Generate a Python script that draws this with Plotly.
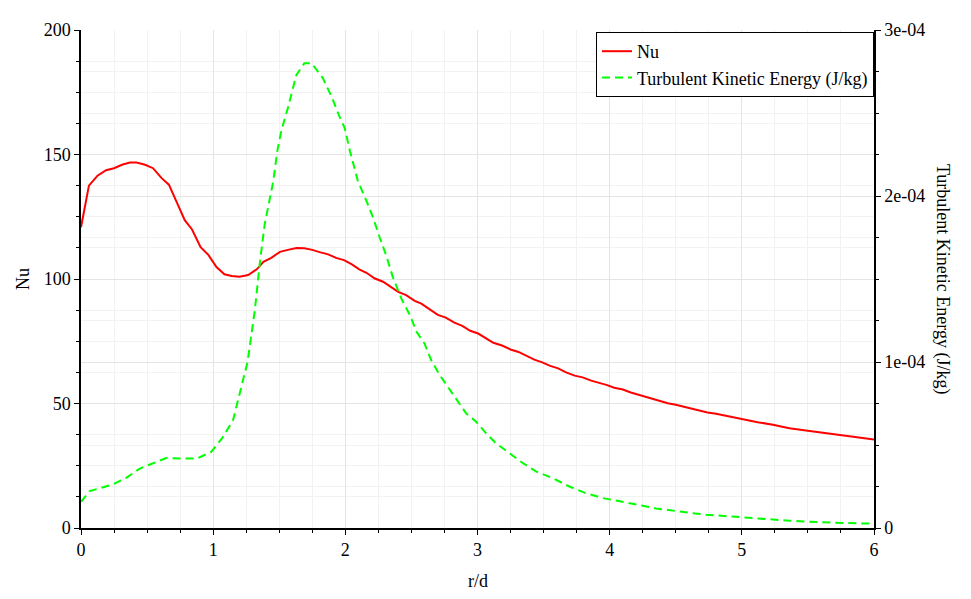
import plotly.graph_objects as go

# ---- data ----
nu_x = [0.0, 0.06, 0.125, 0.19, 0.25, 0.31, 0.37, 0.42, 0.485, 0.545, 0.61, 0.665,
        0.725, 0.785, 0.84, 0.905, 0.965, 1.025, 1.085, 1.14, 1.2, 1.265, 1.33, 1.38,
        1.44, 1.505, 1.565, 1.63, 1.69, 1.75, 1.805, 1.87, 1.93, 1.99, 2.05, 2.105,
        2.16, 2.22, 2.285, 2.335, 2.4, 2.46, 2.525, 2.575, 2.64, 2.7, 2.76, 2.825,
        2.885, 2.945, 3.005, 3.065, 3.12, 3.185, 3.25, 3.31, 3.37, 3.43, 3.49, 3.55,
        3.61, 3.67, 3.735, 3.795, 3.86, 3.91, 3.975, 4.035, 4.1, 4.16, 4.26, 4.33,
        4.44, 4.5, 4.615, 4.74, 4.805, 4.87, 4.93, 5.005, 5.12, 5.235, 5.36, 5.485,
        5.61, 5.735, 5.865, 6.0]
nu_y = [120.8, 137.5, 141.5, 143.7, 144.5, 145.9, 146.8, 146.8, 145.9, 144.5, 140.5, 137.9,
        130.8, 123.6, 119.9, 112.8, 109.6, 104.8, 101.9, 101.2, 100.9, 101.6, 103.9, 106.9,
        108.5, 110.9, 111.7, 112.4, 112.3, 111.7, 110.8, 109.9, 108.5, 107.6, 105.9, 103.9,
        102.5, 100.3, 98.9, 97.2, 94.8, 93.5, 91.2, 90.1, 87.9, 85.6, 84.5, 82.5,
        81.2, 79.2, 78.1, 76.3, 74.4, 73.3, 71.7, 70.7, 69.2, 67.6, 66.5, 65.1,
        64.1, 62.5, 61.2, 60.5, 59.2, 58.5, 57.5, 56.3, 55.6, 54.4, 52.8, 51.9,
        50.1, 49.5, 47.9, 46.4, 45.9, 45.2, 44.5, 43.6, 42.5, 41.5, 40.1, 39.2,
        38.3, 37.2, 36.3, 35.5]

tke_x = [0.0, 0.065, 0.245, 0.345, 0.445, 0.545, 0.645, 0.76, 0.875, 0.985, 1.065, 1.15,
         1.19, 1.225, 1.26, 1.29, 1.315, 1.355, 1.39, 1.43, 1.455, 1.485, 1.515, 1.565,
         1.63, 1.69, 1.745, 1.83, 1.895, 1.955, 1.995, 2.035, 2.095, 2.16, 2.21, 2.26,
         2.31, 2.36, 2.425, 2.49, 2.54, 2.6, 2.65, 2.715, 2.775, 2.84, 2.915, 2.99,
         3.065, 3.14, 3.245, 3.345, 3.445, 3.57, 3.695, 3.82, 3.95, 4.1, 4.225, 4.35,
         4.475, 4.6, 4.73, 4.855, 4.98, 5.105, 5.235, 5.36, 5.485, 5.61, 5.735, 5.865, 6.0]
tke_y = [1.58e-5, 2.22e-5, 2.64e-5, 3.04e-5, 3.58e-5, 3.92e-5, 4.22e-5, 4.18e-5, 4.18e-5,
         4.58e-5, 5.38e-5, 6.48e-5, 7.68e-5, 8.88e-5, 1.0e-4, 1.158e-4, 1.31e-4, 1.61e-4,
         1.83e-4, 1.99e-4, 2.09e-4, 2.27e-4, 2.39e-4, 2.53e-4, 2.73e-4, 2.80e-4, 2.80e-4,
         2.71e-4, 2.60e-4, 2.48e-4, 2.41e-4, 2.27e-4, 2.09e-4, 1.97e-4, 1.87e-4, 1.75e-4,
         1.64e-4, 1.51e-4, 1.38e-4, 1.28e-4, 1.18e-4, 1.11e-4, 1.01e-4, 9.2e-5, 8.5e-5,
         7.7e-5, 6.9e-5, 6.4e-5, 5.7e-5, 5.1e-5, 4.5e-5, 3.9e-5, 3.4e-5, 3.0e-5, 2.5e-5,
         2.1e-5, 1.8e-5, 1.55e-5, 1.38e-5, 1.18e-5, 1.04e-5, 9.2e-6, 8.0e-6, 7.2e-6,
         6.4e-6, 5.6e-6, 5.0e-6, 4.4e-6, 3.8e-6, 3.4e-6, 3.0e-6, 2.8e-6, 2.6e-6]

x_ticks = [0, 1, 2, 3, 4, 5, 6]
nu_ticks = [0, 50, 100, 150, 200]
tke_ticks = [0, 1e-4, 2e-4, 3e-4]
tke_ticktext = ["0", "1e-04", "2e-04", "3e-04"]

FONT = "Liberation Serif"
FS = 18
MAJ = "#e4e4e4"
MIN = "#f2f2f2"

fig = go.Figure()
fig.add_trace(go.Scatter(x=nu_x, y=nu_y, mode="lines", name="Nu",
                         line=dict(color="#ff0000", width=2)))
fig.add_trace(go.Scatter(x=tke_x, y=tke_y, mode="lines",
                         name="Turbulent Kinetic Energy (J/kg)", yaxis="y2",
                         line=dict(color="#00ff00", width=2, dash="8px,5px")))

fig.update_layout(
    width=971, height=599,
    margin=dict(l=73, r=105, t=20, b=79),
    paper_bgcolor="white", plot_bgcolor="white",
    font=dict(family=FONT, size=FS, color="black"),
    showlegend=True,
    legend=dict(x=1, y=0.996, xanchor="right", yanchor="top",
                bgcolor="white", bordercolor="black", borderwidth=1,
                font=dict(family=FONT, size=FS, color="black"),
                itemwidth=30, tracegroupgap=0),
    xaxis=dict(range=[0, 6], tickvals=x_ticks, ticks="outside", ticklen=5,
               tickcolor="black", showline=True, linecolor="black", linewidth=1.5,
               showgrid=True, gridcolor=MAJ, gridwidth=1, zeroline=False,
               minor=dict(dtick=0.25, ticks="outside", ticklen=3, tickcolor="black",
                          showgrid=True, gridcolor=MIN),
               tickfont=dict(family=FONT, size=FS, color="black")),
    yaxis=dict(range=[0, 200], tickvals=nu_ticks, ticks="outside", ticklen=5,
               tickcolor="black", showline=True, linecolor="black", linewidth=1.5,
               showgrid=True, gridcolor=MAJ, zeroline=False,
               minor=dict(dtick=12.5, ticks="outside", ticklen=3, tickcolor="black",
                          showgrid=True, gridcolor=MIN),
               tickfont=dict(family=FONT, size=FS, color="black")),
    yaxis2=dict(range=[0, 3e-4], overlaying="y", side="right",
                tickvals=tke_ticks, ticktext=tke_ticktext, ticks="outside", ticklen=5,
                tickcolor="black", showline=True, linecolor="black", linewidth=1.5,
                showgrid=True, gridcolor=MAJ, zeroline=False,
                minor=dict(dtick=0.25e-4, ticks="outside", ticklen=3, tickcolor="black",
                           showgrid=True, gridcolor=MIN),
                tickfont=dict(family=FONT, size=FS, color="black")),
    annotations=[
        dict(text="Nu", xref="paper", yref="paper", x=-0.073, y=0.5,
             xanchor="center", yanchor="middle",
             textangle=-90, showarrow=False, font=dict(family=FONT, size=FS)),
        dict(text="r/d", xref="paper", yref="paper", x=0.5, y=-0.106,
             xanchor="center", yanchor="middle",
             showarrow=False, font=dict(family=FONT, size=FS)),
        dict(text="Turbulent Kinetic Energy (J/kg)", xref="paper", yref="paper",
             x=1.087, y=0.5, xanchor="center", yanchor="middle",
             textangle=90, showarrow=False,
             font=dict(family=FONT, size=FS)),
    ],
)

fig.write_html("out.html")
